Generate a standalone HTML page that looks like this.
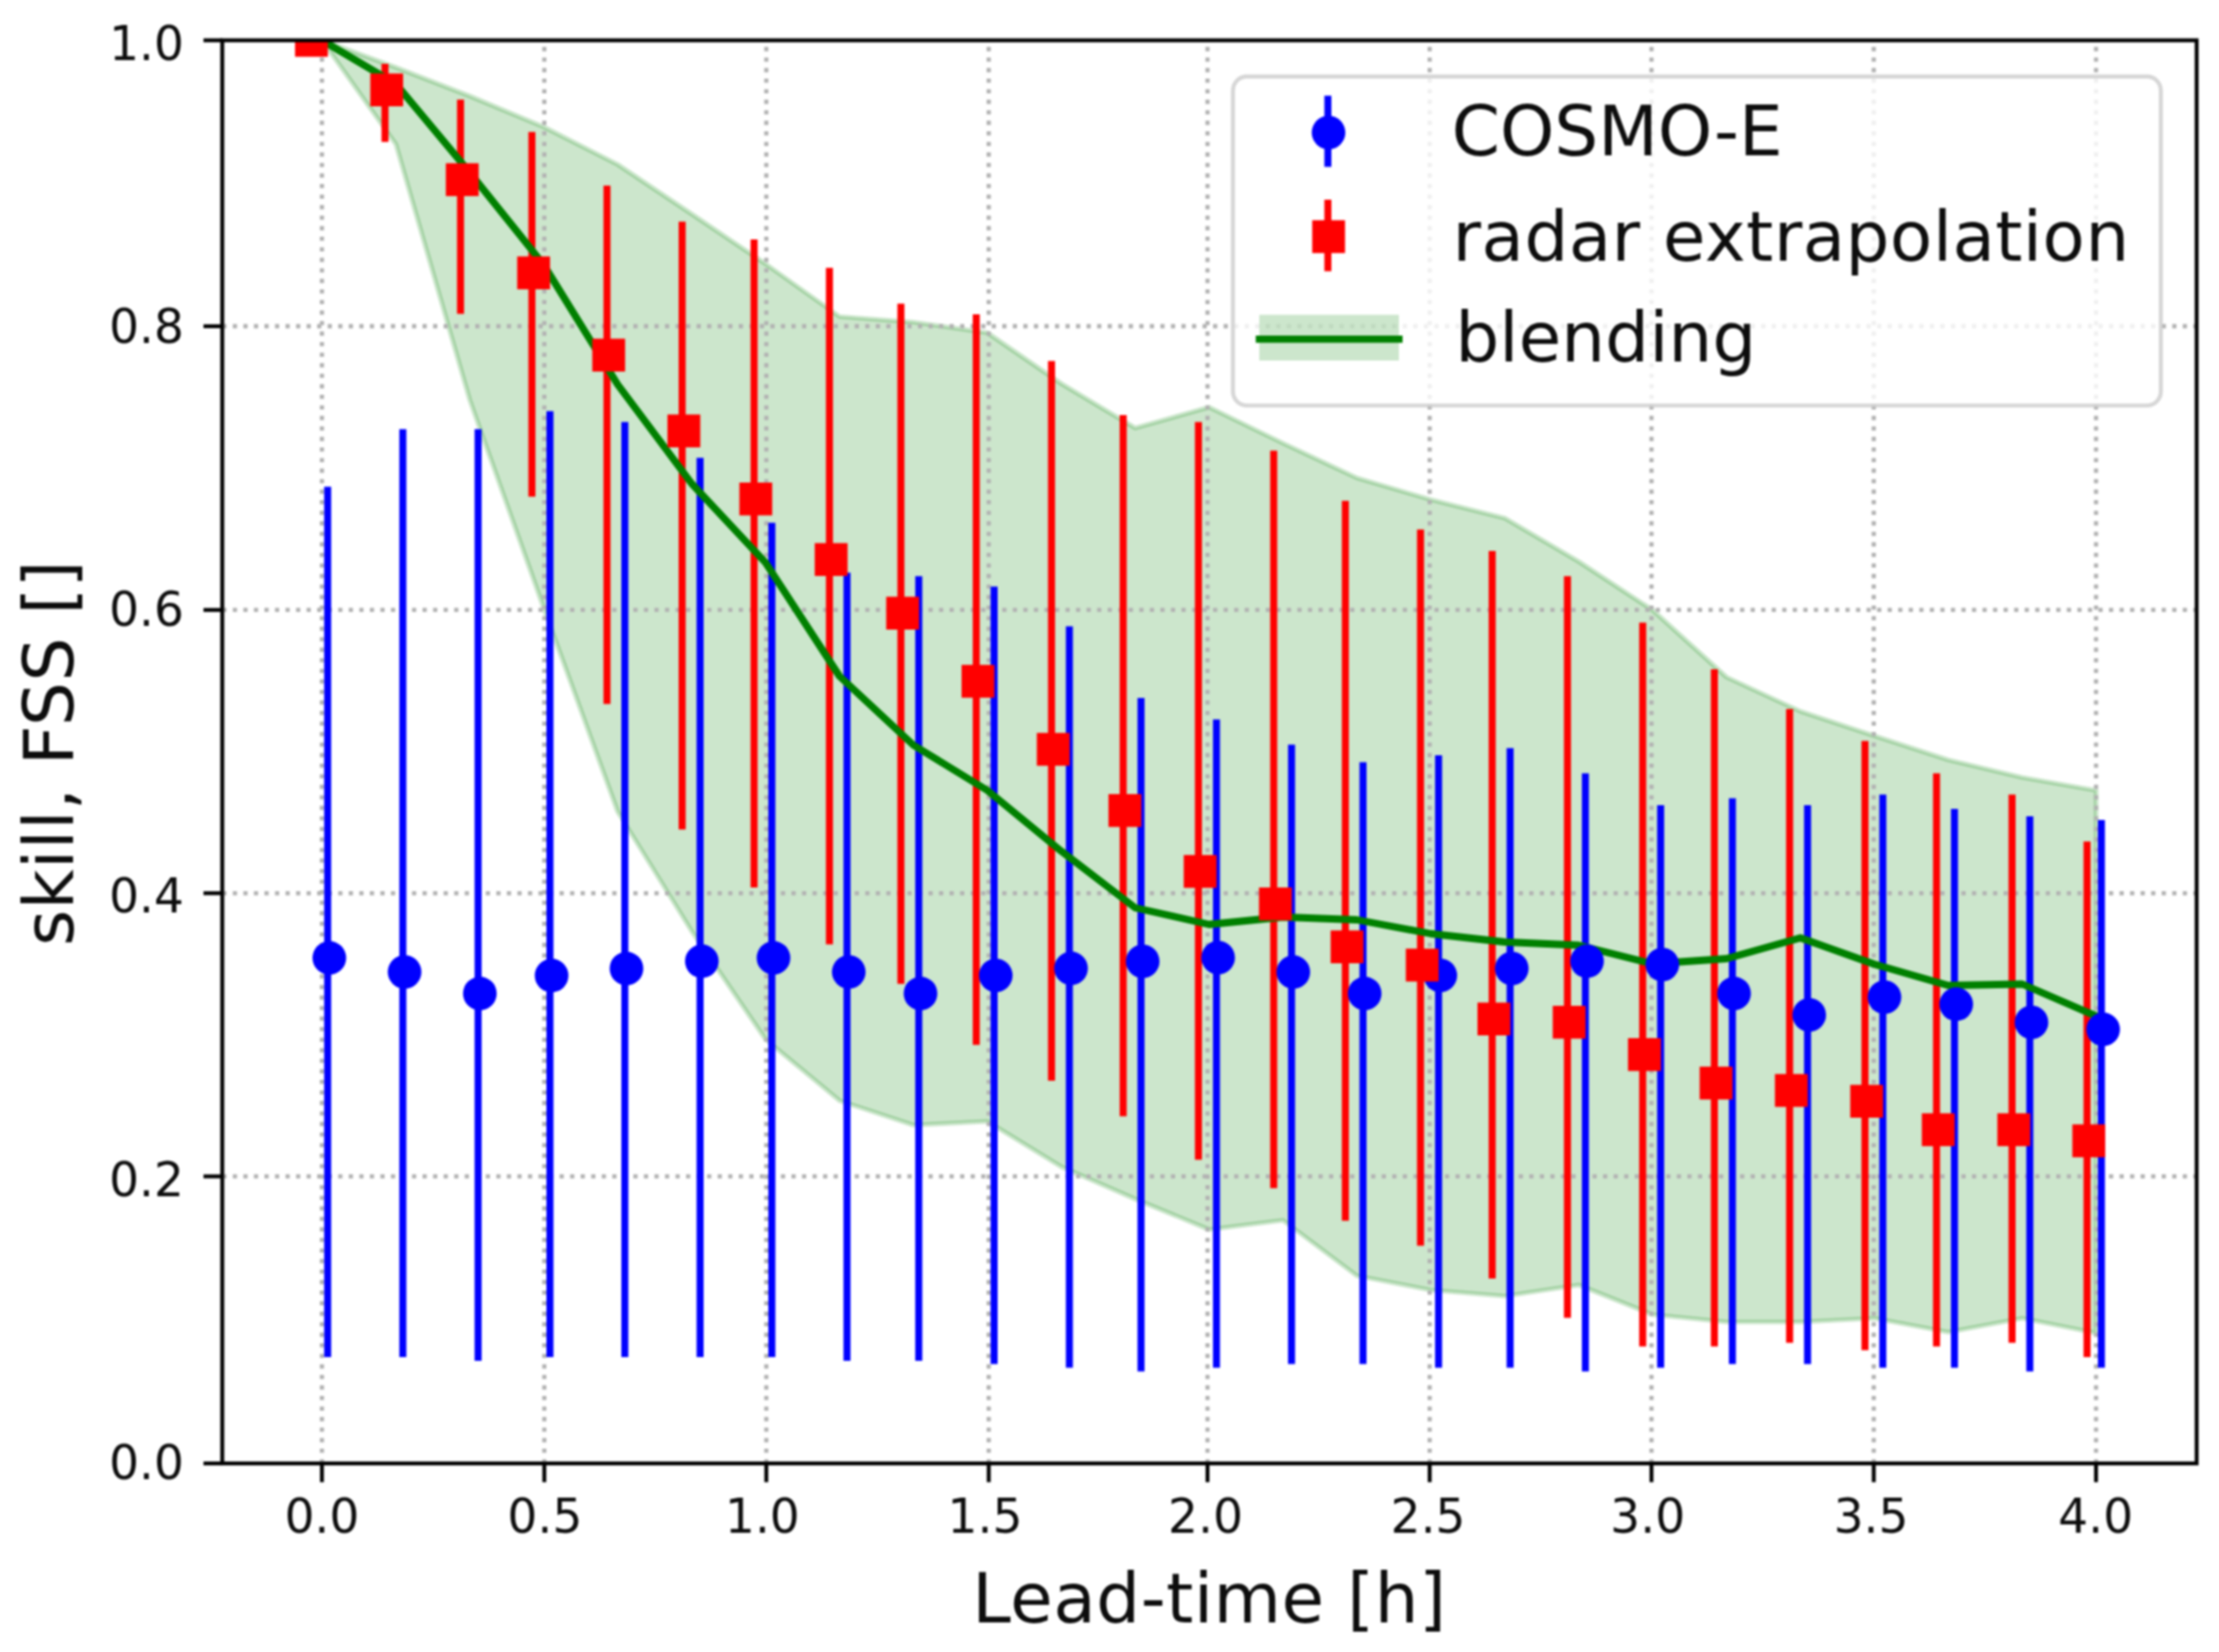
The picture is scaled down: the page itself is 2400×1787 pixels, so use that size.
<!DOCTYPE html>
<html lang="en"><head><meta charset="utf-8"><title>FSS skill vs lead-time</title>
<style>html,body{margin:0;padding:0;background:#fff}body{width:2400px;height:1787px;overflow:hidden}svg{display:block;filter:blur(1.1px)}</style>
</head><body>
<svg width="2400" height="1787" viewBox="0 0 2400 1787" font-family="'DejaVu Sans','Liberation Sans',sans-serif">
<rect width="2400" height="1787" fill="#fff"/>
<g>
<rect width="2400" height="1787" fill="#fff"/>
<defs><clipPath id="ax"><rect x="240.4" y="43.6" width="2135.4" height="1539.4"/></clipPath></defs>
<g clip-path="url(#ax)">
<polygon points="348.3,43.6 428.2,73.0 508.2,104.0 588.2,137.4 668.1,178.0 748.0,231.5 828.0,285.5 908.0,342.5 987.9,348.5 1067.9,360.0 1147.8,415.0 1227.8,463.0 1307.7,440.5 1387.7,479.5 1467.6,517.0 1547.5,540.5 1627.5,560.6 1707.5,607.5 1787.4,660.0 1867.3,732.5 1947.3,769.5 2027.2,796.0 2107.2,822.0 2187.2,841.0 2267.1,855.0 2267.1,1442.0 2187.2,1426.0 2107.2,1441.0 2027.2,1426.0 1947.3,1430.0 1867.3,1430.0 1787.4,1422.0 1707.5,1390.0 1627.5,1402.0 1547.5,1395.5 1467.6,1380.0 1387.7,1320.0 1307.7,1330.0 1227.8,1297.0 1147.8,1262.0 1067.9,1213.0 987.9,1217.0 908.0,1190.6 828.0,1124.3 748.0,1007.0 668.1,878.0 588.2,658.0 508.2,433.0 428.2,156.0 348.3,43.6" fill="#008000" fill-opacity="0.2" stroke="#008000" stroke-opacity="0.2" stroke-width="5.2" stroke-linejoin="round"/>
<line x1="348.2" y1="1583.0" x2="348.2" y2="43.6" stroke="#b2b2b2" stroke-width="4.6" stroke-dasharray="4.6 6.8" fill="none"/>
<line x1="588.7" y1="1583.0" x2="588.7" y2="43.6" stroke="#b2b2b2" stroke-width="4.6" stroke-dasharray="4.6 6.8" fill="none"/>
<line x1="828.8" y1="1583.0" x2="828.8" y2="43.6" stroke="#b2b2b2" stroke-width="4.6" stroke-dasharray="4.6 6.8" fill="none"/>
<line x1="1069.4" y1="1583.0" x2="1069.4" y2="43.6" stroke="#b2b2b2" stroke-width="4.6" stroke-dasharray="4.6 6.8" fill="none"/>
<line x1="1306.0" y1="1583.0" x2="1306.0" y2="43.6" stroke="#b2b2b2" stroke-width="4.6" stroke-dasharray="4.6 6.8" fill="none"/>
<line x1="1546.3" y1="1583.0" x2="1546.3" y2="43.6" stroke="#b2b2b2" stroke-width="4.6" stroke-dasharray="4.6 6.8" fill="none"/>
<line x1="1786.2" y1="1583.0" x2="1786.2" y2="43.6" stroke="#b2b2b2" stroke-width="4.6" stroke-dasharray="4.6 6.8" fill="none"/>
<line x1="2026.6" y1="1583.0" x2="2026.6" y2="43.6" stroke="#b2b2b2" stroke-width="4.6" stroke-dasharray="4.6 6.8" fill="none"/>
<line x1="2267.0" y1="1583.0" x2="2267.0" y2="43.6" stroke="#b2b2b2" stroke-width="4.6" stroke-dasharray="4.6 6.8" fill="none"/>
<line x1="240.4" y1="352.9" x2="2375.8" y2="352.9" stroke="#b2b2b2" stroke-width="4.6" stroke-dasharray="4.6 6.8" fill="none"/>
<line x1="240.4" y1="659.8" x2="2375.8" y2="659.8" stroke="#b2b2b2" stroke-width="4.6" stroke-dasharray="4.6 6.8" fill="none"/>
<line x1="240.4" y1="966.2" x2="2375.8" y2="966.2" stroke="#b2b2b2" stroke-width="4.6" stroke-dasharray="4.6 6.8" fill="none"/>
<line x1="240.4" y1="1272.5" x2="2375.8" y2="1272.5" stroke="#b2b2b2" stroke-width="4.6" stroke-dasharray="4.6 6.8" fill="none"/>
<line x1="354.4" y1="526.4" x2="354.4" y2="1468" stroke="#0000ff" stroke-width="7.6"/>
<line x1="435.7" y1="464.3" x2="435.7" y2="1468" stroke="#0000ff" stroke-width="7.6"/>
<line x1="517.1" y1="464.3" x2="517.1" y2="1472" stroke="#0000ff" stroke-width="7.6"/>
<line x1="594.8" y1="444.8" x2="594.8" y2="1468" stroke="#0000ff" stroke-width="7.6"/>
<line x1="675.8" y1="456.5" x2="675.8" y2="1468" stroke="#0000ff" stroke-width="7.6"/>
<line x1="757.2" y1="495.2" x2="757.2" y2="1468" stroke="#0000ff" stroke-width="7.6"/>
<line x1="834.8" y1="565.5" x2="834.8" y2="1468" stroke="#0000ff" stroke-width="7.6"/>
<line x1="916.1" y1="619.4" x2="916.1" y2="1472" stroke="#0000ff" stroke-width="7.6"/>
<line x1="993.7" y1="623.2" x2="993.7" y2="1472" stroke="#0000ff" stroke-width="7.6"/>
<line x1="1075.2" y1="634.5" x2="1075.2" y2="1475.6" stroke="#0000ff" stroke-width="7.6"/>
<line x1="1156.6" y1="677.4" x2="1156.6" y2="1479.5" stroke="#0000ff" stroke-width="7.6"/>
<line x1="1234.1" y1="755" x2="1234.1" y2="1483.5" stroke="#0000ff" stroke-width="7.6"/>
<line x1="1315.7" y1="778.2" x2="1315.7" y2="1479.5" stroke="#0000ff" stroke-width="7.6"/>
<line x1="1396.9" y1="805.4" x2="1396.9" y2="1475.6" stroke="#0000ff" stroke-width="7.6"/>
<line x1="1474.2" y1="824.6" x2="1474.2" y2="1475.6" stroke="#0000ff" stroke-width="7.6"/>
<line x1="1555.9" y1="817" x2="1555.9" y2="1479.5" stroke="#0000ff" stroke-width="7.6"/>
<line x1="1633.3" y1="809.2" x2="1633.3" y2="1479.5" stroke="#0000ff" stroke-width="7.6"/>
<line x1="1714.7" y1="836.6" x2="1714.7" y2="1483.5" stroke="#0000ff" stroke-width="7.6"/>
<line x1="1796.1" y1="871.1" x2="1796.1" y2="1479.5" stroke="#0000ff" stroke-width="7.6"/>
<line x1="1873.7" y1="863.5" x2="1873.7" y2="1475.6" stroke="#0000ff" stroke-width="7.6"/>
<line x1="1955.0" y1="871.1" x2="1955.0" y2="1475.6" stroke="#0000ff" stroke-width="7.6"/>
<line x1="2036.4" y1="859.5" x2="2036.4" y2="1479.5" stroke="#0000ff" stroke-width="7.6"/>
<line x1="2113.9" y1="875.1" x2="2113.9" y2="1479.5" stroke="#0000ff" stroke-width="7.6"/>
<line x1="2195.4" y1="883.1" x2="2195.4" y2="1483.5" stroke="#0000ff" stroke-width="7.6"/>
<line x1="2272.8" y1="887.1" x2="2272.8" y2="1479.5" stroke="#0000ff" stroke-width="7.6"/>
<line x1="416.4" y1="69" x2="416.4" y2="153.6" stroke="#ff0000" stroke-width="7.6"/>
<line x1="498.1" y1="107.8" x2="498.1" y2="339.5" stroke="#ff0000" stroke-width="7.6"/>
<line x1="575.3" y1="142.7" x2="575.3" y2="537.3" stroke="#ff0000" stroke-width="7.6"/>
<line x1="656.5" y1="200.8" x2="656.5" y2="761.6" stroke="#ff0000" stroke-width="7.6"/>
<line x1="737.8" y1="239.7" x2="737.8" y2="897.3" stroke="#ff0000" stroke-width="7.6"/>
<line x1="815.6" y1="258.9" x2="815.6" y2="959.9" stroke="#ff0000" stroke-width="7.6"/>
<line x1="897.1" y1="289.8" x2="897.1" y2="1021.6" stroke="#ff0000" stroke-width="7.6"/>
<line x1="974.4" y1="328.4" x2="974.4" y2="1064.2" stroke="#ff0000" stroke-width="7.6"/>
<line x1="1055.9" y1="340.1" x2="1055.9" y2="1130.3" stroke="#ff0000" stroke-width="7.6"/>
<line x1="1137.3" y1="390.6" x2="1137.3" y2="1169.1" stroke="#ff0000" stroke-width="7.6"/>
<line x1="1214.8" y1="448.9" x2="1214.8" y2="1207.6" stroke="#ff0000" stroke-width="7.6"/>
<line x1="1296.2" y1="456.5" x2="1296.2" y2="1254.5" stroke="#ff0000" stroke-width="7.6"/>
<line x1="1377.6" y1="487.6" x2="1377.6" y2="1285.3" stroke="#ff0000" stroke-width="7.6"/>
<line x1="1455.1" y1="541.7" x2="1455.1" y2="1320.5" stroke="#ff0000" stroke-width="7.6"/>
<line x1="1536.4" y1="572.7" x2="1536.4" y2="1347.6" stroke="#ff0000" stroke-width="7.6"/>
<line x1="1613.9" y1="596" x2="1613.9" y2="1382.9" stroke="#ff0000" stroke-width="7.6"/>
<line x1="1695.3" y1="623.2" x2="1695.3" y2="1425.5" stroke="#ff0000" stroke-width="7.6"/>
<line x1="1776.7" y1="673.6" x2="1776.7" y2="1456.5" stroke="#ff0000" stroke-width="7.6"/>
<line x1="1854.2" y1="724" x2="1854.2" y2="1456.5" stroke="#ff0000" stroke-width="7.6"/>
<line x1="1935.6" y1="766.9" x2="1935.6" y2="1452.5" stroke="#ff0000" stroke-width="7.6"/>
<line x1="2017.1" y1="801.4" x2="2017.1" y2="1460.4" stroke="#ff0000" stroke-width="7.6"/>
<line x1="2094.5" y1="836.6" x2="2094.5" y2="1456.5" stroke="#ff0000" stroke-width="7.6"/>
<line x1="2176.2" y1="859.5" x2="2176.2" y2="1452.5" stroke="#ff0000" stroke-width="7.6"/>
<line x1="2257.3" y1="910.3" x2="2257.3" y2="1468" stroke="#ff0000" stroke-width="7.6"/>
<polyline points="348.3,43.6 428.2,90.8 508.2,186.7 588.2,286.6 668.1,416.0 748.0,523.0 828.0,608.7 908.0,731.5 987.9,806.0 1067.9,855.0 1147.8,920.7 1227.8,982.0 1307.7,1000.0 1387.7,992.0 1467.6,995.0 1547.5,1010.0 1627.5,1019.0 1707.5,1022.5 1787.4,1042.5 1867.3,1037.0 1947.3,1014.5 2027.2,1043.0 2107.2,1066.0 2187.2,1064.5 2267.1,1099.0" fill="none" stroke="#008000" stroke-width="7.8" stroke-linejoin="round" stroke-linecap="square"/>
<circle cx="356.2" cy="1036.2" r="18.2" fill="#0000ff"/>
<circle cx="437.6" cy="1051.4" r="18.2" fill="#0000ff"/>
<circle cx="519.0" cy="1074.7" r="18.2" fill="#0000ff"/>
<circle cx="596.6" cy="1055.3" r="18.2" fill="#0000ff"/>
<circle cx="677.6" cy="1047.7" r="18.2" fill="#0000ff"/>
<circle cx="759.1" cy="1039.8" r="18.2" fill="#0000ff"/>
<circle cx="836.6" cy="1036.2" r="18.2" fill="#0000ff"/>
<circle cx="918.0" cy="1051.4" r="18.2" fill="#0000ff"/>
<circle cx="995.6" cy="1074.7" r="18.2" fill="#0000ff"/>
<circle cx="1077.0" cy="1055.1" r="18.2" fill="#0000ff"/>
<circle cx="1158.4" cy="1047.5" r="18.2" fill="#0000ff"/>
<circle cx="1235.9" cy="1039.9" r="18.2" fill="#0000ff"/>
<circle cx="1317.5" cy="1035.9" r="18.2" fill="#0000ff"/>
<circle cx="1398.8" cy="1051.5" r="18.2" fill="#0000ff"/>
<circle cx="1476.0" cy="1074.7" r="18.2" fill="#0000ff"/>
<circle cx="1557.8" cy="1055.1" r="18.2" fill="#0000ff"/>
<circle cx="1635.1" cy="1047.6" r="18.2" fill="#0000ff"/>
<circle cx="1716.5" cy="1039.8" r="18.2" fill="#0000ff"/>
<circle cx="1797.9" cy="1043.4" r="18.2" fill="#0000ff"/>
<circle cx="1875.5" cy="1074.7" r="18.2" fill="#0000ff"/>
<circle cx="1956.8" cy="1097.9" r="18.2" fill="#0000ff"/>
<circle cx="2038.2" cy="1078.6" r="18.2" fill="#0000ff"/>
<circle cx="2115.8" cy="1086.3" r="18.2" fill="#0000ff"/>
<circle cx="2197.2" cy="1105.9" r="18.2" fill="#0000ff"/>
<circle cx="2274.7" cy="1113.5" r="18.2" fill="#0000ff"/>
<rect x="319.1" y="25.9" width="35.5" height="35.5" fill="#ff0000"/>
<rect x="400.5" y="79.5" width="35.5" height="35.5" fill="#ff0000"/>
<rect x="482.2" y="176.6" width="35.5" height="35.5" fill="#ff0000"/>
<rect x="559.4" y="277.4" width="35.5" height="35.5" fill="#ff0000"/>
<rect x="640.6" y="366.4" width="35.5" height="35.5" fill="#ff0000"/>
<rect x="721.9" y="448.4" width="35.5" height="35.5" fill="#ff0000"/>
<rect x="799.7" y="522.0" width="35.5" height="35.5" fill="#ff0000"/>
<rect x="881.2" y="587.5" width="35.5" height="35.5" fill="#ff0000"/>
<rect x="958.5" y="645.5" width="35.5" height="35.5" fill="#ff0000"/>
<rect x="1040.0" y="719.2" width="35.5" height="35.5" fill="#ff0000"/>
<rect x="1121.4" y="792.8" width="35.5" height="35.5" fill="#ff0000"/>
<rect x="1198.9" y="859.0" width="35.5" height="35.5" fill="#ff0000"/>
<rect x="1280.3" y="924.9" width="35.5" height="35.5" fill="#ff0000"/>
<rect x="1361.7" y="960.0" width="35.5" height="35.5" fill="#ff0000"/>
<rect x="1439.2" y="1006.5" width="35.5" height="35.5" fill="#ff0000"/>
<rect x="1520.5" y="1026.2" width="35.5" height="35.5" fill="#ff0000"/>
<rect x="1598.0" y="1084.5" width="35.5" height="35.5" fill="#ff0000"/>
<rect x="1679.4" y="1088.0" width="35.5" height="35.5" fill="#ff0000"/>
<rect x="1760.8" y="1123.0" width="35.5" height="35.5" fill="#ff0000"/>
<rect x="1838.3" y="1153.8" width="35.5" height="35.5" fill="#ff0000"/>
<rect x="1919.7" y="1161.8" width="35.5" height="35.5" fill="#ff0000"/>
<rect x="2001.2" y="1173.5" width="35.5" height="35.5" fill="#ff0000"/>
<rect x="2078.6" y="1204.3" width="35.5" height="35.5" fill="#ff0000"/>
<rect x="2160.3" y="1204.3" width="35.5" height="35.5" fill="#ff0000"/>
<rect x="2241.4" y="1216.3" width="35.5" height="35.5" fill="#ff0000"/>
</g>
<rect x="240.4" y="43.6" width="2135.4" height="1539.4" fill="none" stroke="#000" stroke-width="4.2" stroke-linejoin="miter"/>
<line x1="348.2" y1="1583.0" x2="348.2" y2="1603.3" stroke="#000" stroke-width="4.2"/>
<line x1="588.7" y1="1583.0" x2="588.7" y2="1603.3" stroke="#000" stroke-width="4.2"/>
<line x1="828.8" y1="1583.0" x2="828.8" y2="1603.3" stroke="#000" stroke-width="4.2"/>
<line x1="1069.4" y1="1583.0" x2="1069.4" y2="1603.3" stroke="#000" stroke-width="4.2"/>
<line x1="1306.0" y1="1583.0" x2="1306.0" y2="1603.3" stroke="#000" stroke-width="4.2"/>
<line x1="1546.3" y1="1583.0" x2="1546.3" y2="1603.3" stroke="#000" stroke-width="4.2"/>
<line x1="1786.2" y1="1583.0" x2="1786.2" y2="1603.3" stroke="#000" stroke-width="4.2"/>
<line x1="2026.6" y1="1583.0" x2="2026.6" y2="1603.3" stroke="#000" stroke-width="4.2"/>
<line x1="2267.0" y1="1583.0" x2="2267.0" y2="1603.3" stroke="#000" stroke-width="4.2"/>
<line x1="240.4" y1="43.6" x2="220.10000000000002" y2="43.6" stroke="#000" stroke-width="4.2"/>
<line x1="240.4" y1="352.9" x2="220.10000000000002" y2="352.9" stroke="#000" stroke-width="4.2"/>
<line x1="240.4" y1="659.8" x2="220.10000000000002" y2="659.8" stroke="#000" stroke-width="4.2"/>
<line x1="240.4" y1="966.2" x2="220.10000000000002" y2="966.2" stroke="#000" stroke-width="4.2"/>
<line x1="240.4" y1="1272.5" x2="220.10000000000002" y2="1272.5" stroke="#000" stroke-width="4.2"/>
<line x1="240.4" y1="1583.0" x2="220.10000000000002" y2="1583.0" stroke="#000" stroke-width="4.2"/>
<text x="348.2" y="1658" font-size="51" text-anchor="middle" fill="#0d0d0d">0.0</text>
<text x="589.4" y="1658" font-size="51" text-anchor="middle" fill="#0d0d0d">0.5</text>
<text x="824.5" y="1658" font-size="51" text-anchor="middle" fill="#0d0d0d">1.0</text>
<text x="1065.4" y="1658" font-size="51" text-anchor="middle" fill="#0d0d0d">1.5</text>
<text x="1303.8" y="1658" font-size="51" text-anchor="middle" fill="#0d0d0d">2.0</text>
<text x="1544.5" y="1658" font-size="51" text-anchor="middle" fill="#0d0d0d">2.5</text>
<text x="1782.1" y="1658" font-size="51" text-anchor="middle" fill="#0d0d0d">3.0</text>
<text x="2023.7" y="1658" font-size="51" text-anchor="middle" fill="#0d0d0d">3.5</text>
<text x="2266.6" y="1658" font-size="51" text-anchor="middle" fill="#0d0d0d">4.0</text>
<text x="199" y="64.7" font-size="51" text-anchor="end" fill="#0d0d0d">1.0</text>
<text x="199" y="370.5" font-size="51" text-anchor="end" fill="#0d0d0d">0.8</text>
<text x="199" y="676.5" font-size="51" text-anchor="end" fill="#0d0d0d">0.6</text>
<text x="199" y="986.9" font-size="51" text-anchor="end" fill="#0d0d0d">0.4</text>
<text x="199" y="1293.8" font-size="51" text-anchor="end" fill="#0d0d0d">0.2</text>
<text x="199" y="1599.8" font-size="51" text-anchor="end" fill="#0d0d0d">0.0</text>
<text x="1308.1" y="1754.5" font-size="75" letter-spacing="0.5" text-anchor="middle" fill="#0d0d0d">Lead-time [h]</text>
<text transform="translate(79,814.5) rotate(-90)" font-size="75" letter-spacing="0.42" text-anchor="middle" fill="#0d0d0d">skill, FSS []</text>
<rect x="1333.5" y="82.8" width="1003.6" height="355.8" rx="15" ry="15" fill="#fff" fill-opacity="0.8" stroke="#cccccc" stroke-opacity="0.8" stroke-width="4.4"/>
<line x1="1436.2" y1="103.5" x2="1436.2" y2="180.5" stroke="#0000ff" stroke-width="7.6"/>
<circle cx="1436.9" cy="143.4" r="18.2" fill="#0000ff"/>
<line x1="1436.2" y1="216" x2="1436.2" y2="293.4" stroke="#ff0000" stroke-width="7.6"/>
<rect x="1419.25" y="238.25" width="35.5" height="35.5" fill="#ff0000"/>
<rect x="1362" y="340.5" width="151" height="49.5" fill="#008000" fill-opacity="0.2"/>
<line x1="1358.2" y1="366.8" x2="1517" y2="366.8" stroke="#008000" stroke-width="7.8"/>
<text x="1570" y="168" font-size="75" letter-spacing="-0.2" fill="#0d0d0d">COSMO-E</text>
<text x="1571" y="281.6" font-size="75" letter-spacing="0.42" fill="#0d0d0d">radar extrapolation</text>
<text x="1574" y="390.5" font-size="75" fill="#0d0d0d">blending</text>
</g>
</svg>
</body></html>
